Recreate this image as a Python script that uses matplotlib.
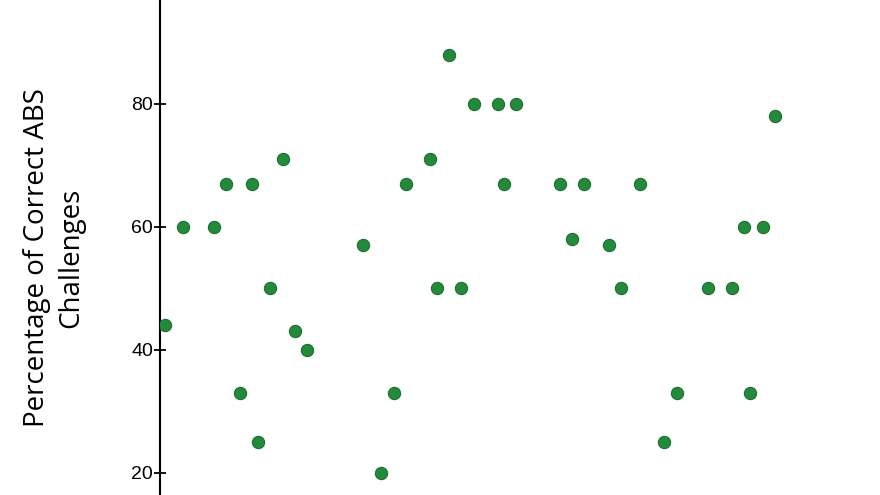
import matplotlib.pyplot as plt

# x position (unit index, x axis not shown in the reference) and percentage
game_index = [0, 3, 8, 10, 12.2, 14.1, 15.1, 17.1, 19.2, 21.1, 23.1,
              32.2, 35.1, 37.2, 39.2, 43.1, 44.2, 46.2, 48.1, 50.2, 54.1,
              55.1, 57.1, 64.2, 66.2, 68.1, 72.2, 74.2, 77.2, 81.1, 83.3,
              88.3, 92.2, 94.1, 95.1, 97.2, 99.2]
pct_correct = [44, 60, 60, 67, 33, 67, 25, 50, 71, 43, 40,
               57, 20, 33, 67, 71, 50, 88, 50, 80, 80,
               67, 80, 67, 58, 67, 57, 50, 67, 25, 33,
               50, 50, 60, 33, 60, 78]
y_ticks = [20, 40, 60, 80]

fig = plt.figure(figsize=(8.8, 4.95), dpi=100)
ax = fig.add_axes([160 / 880, 0, 1 - 160 / 880, 1])

ax.scatter(game_index, pct_correct, s=78, color='#23893b',
           edgecolors='#1b7030', linewidths=0.8, zorder=3)

ax.set_xlim(-0.81, 116.3)
ax.set_ylim(16.4, 96.9)

for side in ['top', 'right', 'bottom']:
    ax.spines[side].set_visible(False)
ax.spines['left'].set_linewidth(1.5)
ax.set_xticks([])
ax.set_yticks(y_ticks)
ax.tick_params(axis='y', direction='inout', length=8, width=1.3,
               labelsize=14, pad=1)
for lbl in ax.get_yticklabels():
    lbl.set_fontfamily('Liberation Sans')

fig.text(54 / 880, 1 - 257.5 / 495, 'Percentage of Correct ABS\nChallenges',
         rotation=90, ha='center', va='center', multialignment='center',
         fontsize=20, family='Open Sans', linespacing=1.3)

fig.savefig('out.png', dpi=100)
